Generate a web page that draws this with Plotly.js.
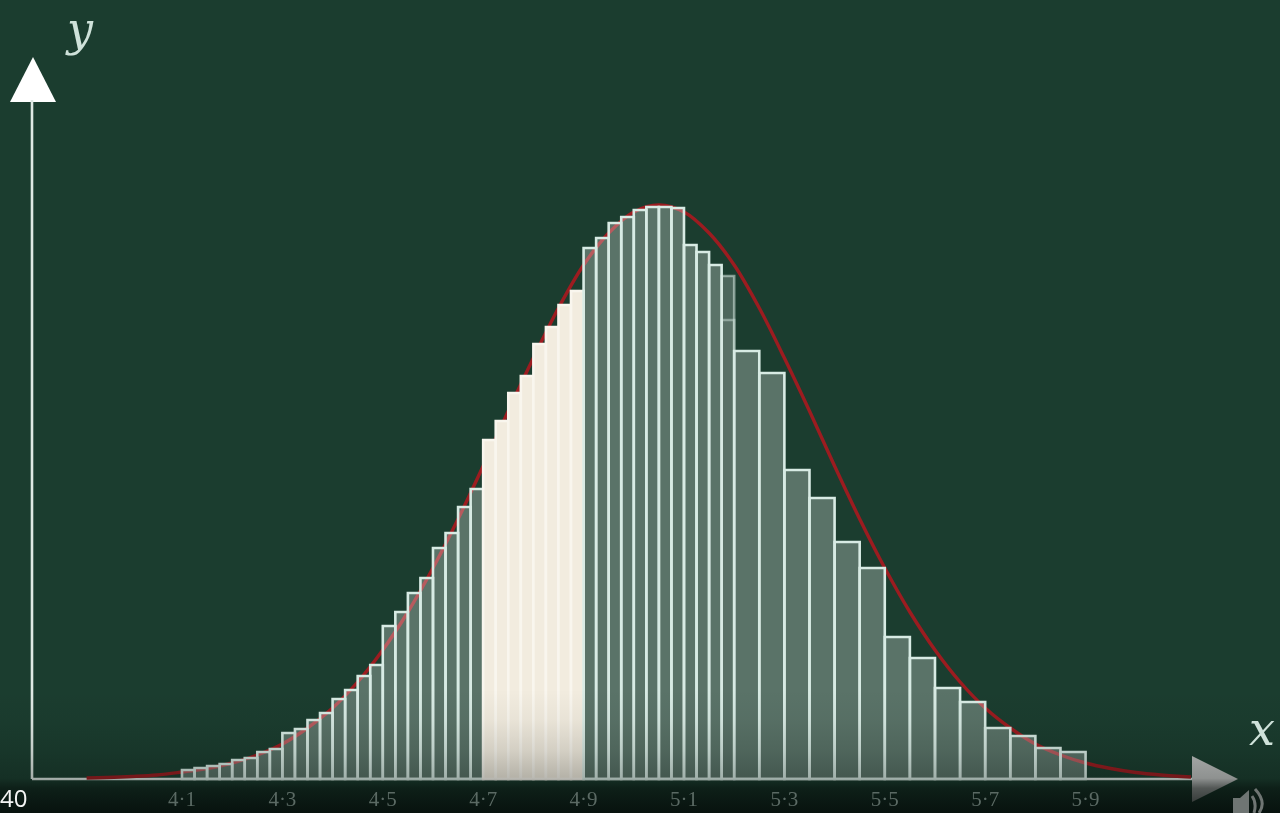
<!DOCTYPE html>
<html>
<head>
<meta charset="utf-8">
<script src="https://cdn.plot.ly/plotly-3.0.1.min.js"></script>
<style>html,body{margin:0;padding:0;background:#1b3d2f;overflow:hidden}#chart{width:1280px;height:813px;filter:blur(0.7px)}</style>
</head>
<body>
<div id="chart"></div>
<script>
// Histogram bins: left edge, width and height (height is in arbitrary frequency units)
const binLeft = [4.1,4.125,4.15,4.175,4.2,4.225,4.25,4.275,4.3,4.325,4.35,4.375,4.4,4.425,4.45,4.475,4.5,4.525,4.55,4.575,4.6,4.625,4.65,4.675,4.7,4.725,4.75,4.775,4.8,4.825,4.85,4.875,4.9,4.925,4.95,4.975,5.0,5.025,5.05,5.075,5.1,5.125,5.15,5.175,5.2,5.25,5.3,5.35,5.4,5.45,5.5,5.55,5.6,5.65,5.7,5.75,5.8,5.85];
const binWidth = [0.025,0.025,0.025,0.025,0.025,0.025,0.025,0.025,0.025,0.025,0.025,0.025,0.025,0.025,0.025,0.025,0.025,0.025,0.025,0.025,0.025,0.025,0.025,0.025,0.025,0.025,0.025,0.025,0.025,0.025,0.025,0.025,0.025,0.025,0.025,0.025,0.025,0.025,0.025,0.025,0.025,0.025,0.025,0.025,0.05,0.05,0.05,0.05,0.05,0.05,0.05,0.05,0.05,0.05,0.05,0.05,0.05,0.05];
const binHeight = [9,11,13,15,19,21,27,30,46,50,59,66,80,89,103,114,153,167,186,201,231,246,272,290,339,358,386,403,435,452,474,488,531,541,556,562,569,572,572,571,534,527,514,503,428,406,309,281,237,211,142,121,91,77,51,43,31,27];
// The bin that is still fading in: its solid lower part
const fadeLeft = [5.175];
const fadeWidth = [0.025];
const fadeHeight = [459];
// Red density curve
const curveX = [3.91,3.95,4.0,4.05,4.1,4.15,4.2,4.25,4.3,4.35,4.4,4.45,4.5,4.55,4.6,4.65,4.7,4.75,4.8,4.85,4.9,4.95,5.0,5.05,5.1,5.15,5.2,5.25,5.3,5.35,5.4,5.45,5.5,5.55,5.6,5.65,5.7,5.75,5.8,5.85,5.9,5.95,6.0,6.05,6.11];
const curveY = [1,1.5,2.5,4,7,10.5,16,24,35,51,71,97,129,167,211,260,313,368,421,471,514,546,567,574,567,546,514,471,421,368,313,260,211,167,129,97,71,51,35,24,16,10.5,6.5,4,2];
// Tick labels
const tickVals = [4.1,4.3,4.5,4.7,4.9,5.1,5.3,5.5,5.7,5.9];
const tickText = ['4·1','4·3','4·5','4·7','4·9','5·1','5·3','5·5','5·7','5·9'];
const highlightFrom = 4.7, highlightTo = 4.9;

const W = 1280, H = 813;
const xRange = [3.7375, 6.2873], yRange = [-34, 779];
const px = x => x / W;
const py = y => 1 - y / H;
const poly = pts => 'M' + pts.map(p => px(p[0]) + ',' + py(p[1])).join('L') + 'Z';
const P = (x, y) => px(x) + ',' + py(y);

const isHi = binLeft.map(l => l >= highlightFrom - 1e-9 && l < highlightTo - 1e-9);
const isFade = binLeft.map(l => fadeLeft.some(f => Math.abs(f - l) < 1e-9));

const curve = {type:'scatter', mode:'lines', x:curveX, y:curveY, xaxis:'x', yaxis:'y',
  line:{color:'#9c1c20', width:3.4, shape:'spline', smoothing:1}, hoverinfo:'skip', showlegend:false};

const bars = {type:'bar', x:binLeft, y:binHeight, width:binWidth, offset:0, xaxis:'x2', yaxis:'y2',
  marker:{color:binLeft.map((l,i) => isHi[i] ? '#f2ecdf' : isFade[i] ? 'rgba(255,255,255,0.22)' : 'rgba(255,255,255,0.28)'),
          line:{color:binLeft.map((l,i) => isHi[i] ? '#f9f6ee' : isFade[i] ? 'rgba(216,235,228,0.55)' : '#d8ebe4'), width:2.6}},
  hoverinfo:'skip', showlegend:false};

const fadeBars = {type:'bar', x:fadeLeft, y:fadeHeight, width:fadeWidth, offset:0, xaxis:'x2', yaxis:'y2',
  marker:{color:'rgba(255,255,255,0.07)', line:{color:'rgba(216,235,228,0.45)', width:2.6}},
  hoverinfo:'skip', showlegend:false};

// bottom dimming band of the video frame
const dim = {type:'scatter', mode:'lines', xaxis:'x2', yaxis:'y2',
  x:[xRange[0],xRange[1],xRange[1],xRange[0],xRange[0]], y:[90,90,-34,-34,90],
  fill:'toself', line:{width:0, color:'rgba(0,0,0,0)'},
  fillgradient:{type:'vertical', colorscale:[[0,'rgba(4,10,8,0.84)'],[0.2,'rgba(4,10,8,0.58)'],[0.28,'rgba(4,10,8,0.26)'],[0.5,'rgba(4,10,8,0.13)'],[0.75,'rgba(4,10,8,0.04)'],[1,'rgba(4,10,8,0)']]},
  hoverinfo:'skip', showlegend:false};

const axisCol = '#dfe9e4';
const iconCol = '#6f7573';
const shapes = [
  {type:'path', xref:'paper', yref:'paper', layer:'below', path:poly([[33,57],[10,102],[56,102]]), fillcolor:'#ffffff', line:{width:0}},
  {type:'line', xref:'paper', yref:'paper', layer:'below', x0:px(32), x1:px(32), y0:py(100), y1:py(779), line:{color:axisCol, width:2.6}},
  {type:'line', xref:'paper', yref:'paper', layer:'below', x0:px(32), x1:px(1194), y0:py(779), y1:py(779), line:{color:axisCol, width:2.6}},
  {type:'path', xref:'paper', yref:'paper', layer:'below', path:poly([[1192,756],[1192,802],[1238,779]]), fillcolor:'#bfc1c0', line:{width:0}},
  {type:'path', xref:'paper', yref:'paper', layer:'above', path:poly([[1233,798],[1240,798],[1249,790],[1249,813],[1233,813]]), fillcolor:iconCol, line:{width:0}},
  {type:'path', xref:'paper', yref:'paper', layer:'above', path:'M'+P(1252,796)+'Q'+P(1257,803)+' '+P(1254,813), line:{color:iconCol, width:3}},
  {type:'path', xref:'paper', yref:'paper', layer:'above', path:'M'+P(1255,789)+'Q'+P(1267,802)+' '+P(1259,813), line:{color:iconCol, width:3}}
];

const annotations = [
  {xref:'paper', yref:'paper', x:px(79), y:py(29), text:'<i>y</i>', showarrow:false, xanchor:'center', yanchor:'middle',
   font:{family:'"DejaVu Serif", serif', size:46, color:'#cfe2da'}},
  {xref:'paper', yref:'paper', x:px(1262), y:py(729), text:'<i>x</i>', showarrow:false, xanchor:'center', yanchor:'middle',
   font:{family:'"DejaVu Serif", serif', size:46, color:'#cfe2da'}},
  {xref:'paper', yref:'paper', x:px(0), y:py(797), text:'40', showarrow:false, xanchor:'left', yanchor:'middle', borderpad:0, borderwidth:0,
   font:{family:'"Open Sans", sans-serif', size:24, color:'#f4f4f4'}}
];

const layout = {
  width:W, height:H, margin:{l:0,r:0,t:0,b:0},
  paper_bgcolor:'#1b3d2f', plot_bgcolor:'#1b3d2f', showlegend:false, bargap:0, barmode:'overlay',
  xaxis:{range:xRange, domain:[0,1], anchor:'free', position:34/813, showgrid:false, zeroline:false, showline:false,
    tickmode:'array', tickvals:tickVals, ticktext:tickText, ticks:'outside', ticklen:1, tickcolor:'rgba(0,0,0,0)',
    tickfont:{family:'"Liberation Serif", serif', size:21, color:'#5b6a64'}},
  yaxis:{range:yRange, domain:[0,1], visible:false, showgrid:false, zeroline:false},
  xaxis2:{range:xRange, overlaying:'x', visible:false, showgrid:false, zeroline:false},
  yaxis2:{range:yRange, overlaying:'y', visible:false, showgrid:false, zeroline:false},
  shapes, annotations
};

Plotly.newPlot('chart', [curve, bars, fadeBars, dim], layout, {displayModeBar:false, staticPlot:true});
</script>
</body>
</html>
